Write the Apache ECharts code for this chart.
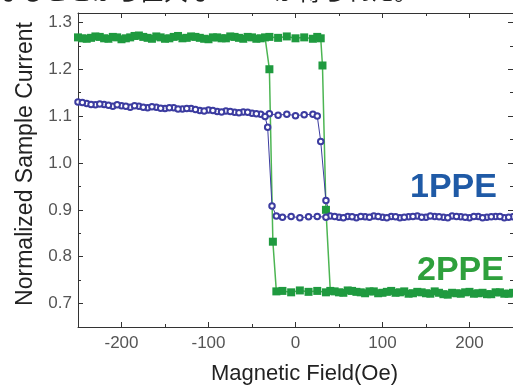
<!DOCTYPE html>
<html>
<head>
<meta charset="utf-8">
<script src="https://cdn.jsdelivr.net/npm/echarts@6/dist/echarts.min.js"></script>
<style>
  html, body { margin: 0; padding: 0; background: #fff; }
  #main { width: 513px; height: 390px; }
</style>
</head>
<body>
<div id="main"></div>
<script>
// tick labels
const xTicks = [-200, -100, 0, 100, 200];
const xMinorTicks = [-150, -50, 50, 150];
const yTicks = [0.7, 0.8, 0.9, 1.0, 1.1, 1.2, 1.3];
const yMinorTicks = [0.75, 0.85, 0.95, 1.05, 1.15, 1.25];

// 1PPE, field sweep up (-250 -> 250)
const ppe1UpField = [-250, -240, -230, -220, -210, -200, -190, -180, -170, -160, -150, -140, -130, -120, -110, -100,
  -90, -80, -70, -60, -50, -40, -30, -20, -10, 0, 10, 20, 25, 29, 35, 40, 50, 60, 70, 80, 90, 100,
  110, 120, 130, 140, 150, 160, 170, 180, 190, 200, 210, 220, 230, 240, 250];
const ppe1UpValue = [1.130, 1.127, 1.124, 1.125, 1.121, 1.122, 1.119, 1.121, 1.118, 1.119, 1.116, 1.118, 1.115, 1.116, 1.112, 1.113,
  1.110, 1.111, 1.108, 1.109, 1.106, 1.104, 1.105, 1.102, 1.104, 1.101, 1.103, 1.104, 1.100, 1.046, 0.920, 0.887, 0.884, 0.886, 0.883, 0.885, 0.887, 0.884,
  0.886, 0.883, 0.885, 0.887, 0.884, 0.886, 0.884, 0.887, 0.885, 0.883, 0.886, 0.884, 0.886, 0.883, 0.885];
// 1PPE, field sweep down (250 -> -250)
const ppe1DownField = [245, 235, 225, 215, 205, 195, 185, 175, 165, 155, 145, 135, 125, 115, 105, 95, 85, 75, 65, 55,
  45, 35, 25, 15, 5, -5, -15, -22, -27, -32, -35, -45, -55, -65, -75, -85, -95, -105, -115, -125,
  -135, -145, -155, -165, -175, -185, -195, -205, -215, -225, -235, -245];
const ppe1DownValue = [0.884, 0.886, 0.885, 0.883, 0.886, 0.884, 0.886, 0.883, 0.885, 0.887, 0.884, 0.886, 0.884, 0.885, 0.883, 0.886, 0.884, 0.886, 0.885, 0.883,
  0.886, 0.884, 0.886, 0.885, 0.883, 0.886, 0.884, 0.887, 0.908, 1.076, 1.099, 1.105, 1.108, 1.107, 1.110, 1.109, 1.112, 1.111, 1.114, 1.116,
  1.115, 1.118, 1.117, 1.120, 1.119, 1.122, 1.121, 1.124, 1.123, 1.126, 1.125, 1.129];

// 2PPE, field sweep up
const ppe2UpField = [-250, -240, -230, -220, -210, -200, -190, -180, -170, -160, -150, -140, -130, -120, -110, -100,
  -90, -80, -70, -60, -50, -40, -30, -20, -10, 0, 10, 20, 25, 29, 31, 35, 40, 50, 60, 70, 80, 90, 100,
  110, 120, 130, 140, 150, 160, 170, 180, 190, 200, 210, 220, 230, 240, 250];
const ppe2UpValue = [1.268, 1.265, 1.270, 1.266, 1.269, 1.264, 1.268, 1.272, 1.267, 1.270, 1.265, 1.269, 1.266, 1.270, 1.267, 1.264,
  1.268, 1.266, 1.269, 1.265, 1.268, 1.266, 1.269, 1.267, 1.270, 1.266, 1.268, 1.265, 1.269, 1.266, 1.208, 0.900, 0.727, 0.724, 0.728, 0.725, 0.722, 0.726, 0.723,
  0.727, 0.724, 0.721, 0.725, 0.722, 0.726, 0.720, 0.723, 0.721, 0.725, 0.722, 0.720, 0.724, 0.721, 0.723];
// 2PPE, field sweep down
const ppe2DownField = [245, 235, 225, 215, 205, 195, 185, 175, 165, 155, 145, 135, 125, 115, 105, 95, 85, 75, 65, 55,
  45, 35, 25, 15, 5, -5, -15, -22, -26, -30, -35, -45, -55, -65, -75, -85, -95, -105, -115, -125,
  -135, -145, -155, -165, -175, -185, -195, -205, -215, -225, -235, -245];
const ppe2DownValue = [0.721, 0.724, 0.720, 0.723, 0.721, 0.724, 0.722, 0.719, 0.723, 0.721, 0.724, 0.722, 0.726, 0.723, 0.725, 0.722, 0.726, 0.724, 0.727, 0.723,
  0.726, 0.724, 0.727, 0.725, 0.728, 0.724, 0.727, 0.726, 0.832, 1.200, 1.268, 1.265, 1.269, 1.267, 1.270, 1.266, 1.268, 1.265, 1.269, 1.267,
  1.271, 1.266, 1.268, 1.265, 1.269, 1.271, 1.266, 1.268, 1.265, 1.269, 1.267, 1.266];

const zip = (xs, ys) => xs.map((x, i) => [x, ys[i]]);

const axisColor = '#333';
const labelFont = { fontFamily: 'Liberation Sans', fontSize: 17, color: '#555' };

// extra axes only carry mirrored / minor ticks
function tickAxis(pos, vals, len, range, showLine) {
  return {
    type: 'value', position: pos, min: range[0], max: range[1],
    axisLine: { show: showLine, onZero: false, lineStyle: { color: axisColor } },
    axisTick: { show: true, inside: true, length: len, customValues: vals, lineStyle: { color: axisColor } },
    axisLabel: { show: false },
    splitLine: { show: false }
  };
}

function ppe2(data) {
  return {
    type: 'line', data: data,
    symbol: 'rect', symbolSize: 8, showAllSymbol: true,
    itemStyle: { color: '#1f9a3f' },
    lineStyle: { color: '#4cb552', width: 1.5 }
  };
}
function ppe1(data) {
  return {
    type: 'line', data: data,
    symbol: 'emptyCircle', symbolSize: 5.5, showAllSymbol: true,
    itemStyle: { color: '#3c3ca0', borderWidth: 1 },
    lineStyle: { color: '#3c3ca0', width: 1 }
  };
}

const chart = echarts.init(document.getElementById('main'));
chart.setOption({
  animation: false,
  backgroundColor: '#fff',
  grid: { left: 78, right: -3, top: 13, bottom: 57 },
  xAxis: [
    {
      type: 'value', position: 'bottom', min: -250, max: 250,
      name: 'Magnetic Field(Oe)', nameLocation: 'middle', nameGap: 36,
      nameTextStyle: { fontFamily: 'Liberation Sans', fontSize: 22, color: '#222', padding: [0, 0, 0, 18] },
      axisLine: { onZero: false, lineStyle: { color: axisColor } },
      axisTick: { inside: true, length: 5, customValues: xTicks, lineStyle: { color: axisColor } },
      axisLabel: Object.assign({ customValues: xTicks, margin: 8 }, labelFont),
      splitLine: { show: false }
    },
    tickAxis('bottom', xMinorTicks, 3, [-250, 250], false),
    tickAxis('top', xTicks, 5, [-250, 250], true),
    tickAxis('top', xMinorTicks, 3, [-250, 250], false)
  ],
  yAxis: [
    {
      type: 'value', position: 'left', min: 0.65, max: 1.32,
      name: 'Normalized Sample Current', nameLocation: 'middle', nameGap: 41,
      nameTextStyle: { fontFamily: 'Liberation Sans', fontSize: 23, color: '#222', padding: [0, 0, 0, 12] },
      axisLine: { onZero: false, lineStyle: { color: axisColor } },
      axisTick: { inside: true, length: 5, customValues: yTicks, lineStyle: { color: axisColor } },
      axisLabel: Object.assign({ customValues: yTicks, margin: 6, formatter: v => v.toFixed(1) }, labelFont),
      splitLine: { show: false }
    },
    tickAxis('left', yMinorTicks, 3, [0.65, 1.32], false),
    tickAxis('right', yTicks, 5, [0.65, 1.32], true),
    tickAxis('right', yMinorTicks, 3, [0.65, 1.32], false)
  ],
  graphic: [
    {
      type: 'text', x: -4, y: 3,
      style: { text: 'なることから巨大な MCD が得られた。', font: '24px "Noto Sans CJK JP"', fill: '#222', verticalAlign: 'bottom' }
    },
    {
      type: 'text', x: 410, y: 188,
      style: { text: '1PPE', font: 'bold 34px "Liberation Sans"', fill: '#1f5aa6', verticalAlign: 'middle' }
    },
    {
      type: 'text', x: 417, y: 271,
      style: { text: '2PPE', font: 'bold 34px "Liberation Sans"', fill: '#2ea03c', verticalAlign: 'middle' }
    }
  ],
  series: [
    ppe2(zip(ppe2UpField, ppe2UpValue)),
    ppe2(zip(ppe2DownField, ppe2DownValue)),
    ppe1(zip(ppe1UpField, ppe1UpValue)),
    ppe1(zip(ppe1DownField, ppe1DownValue))
  ]
});
</script>
</body>
</html>
